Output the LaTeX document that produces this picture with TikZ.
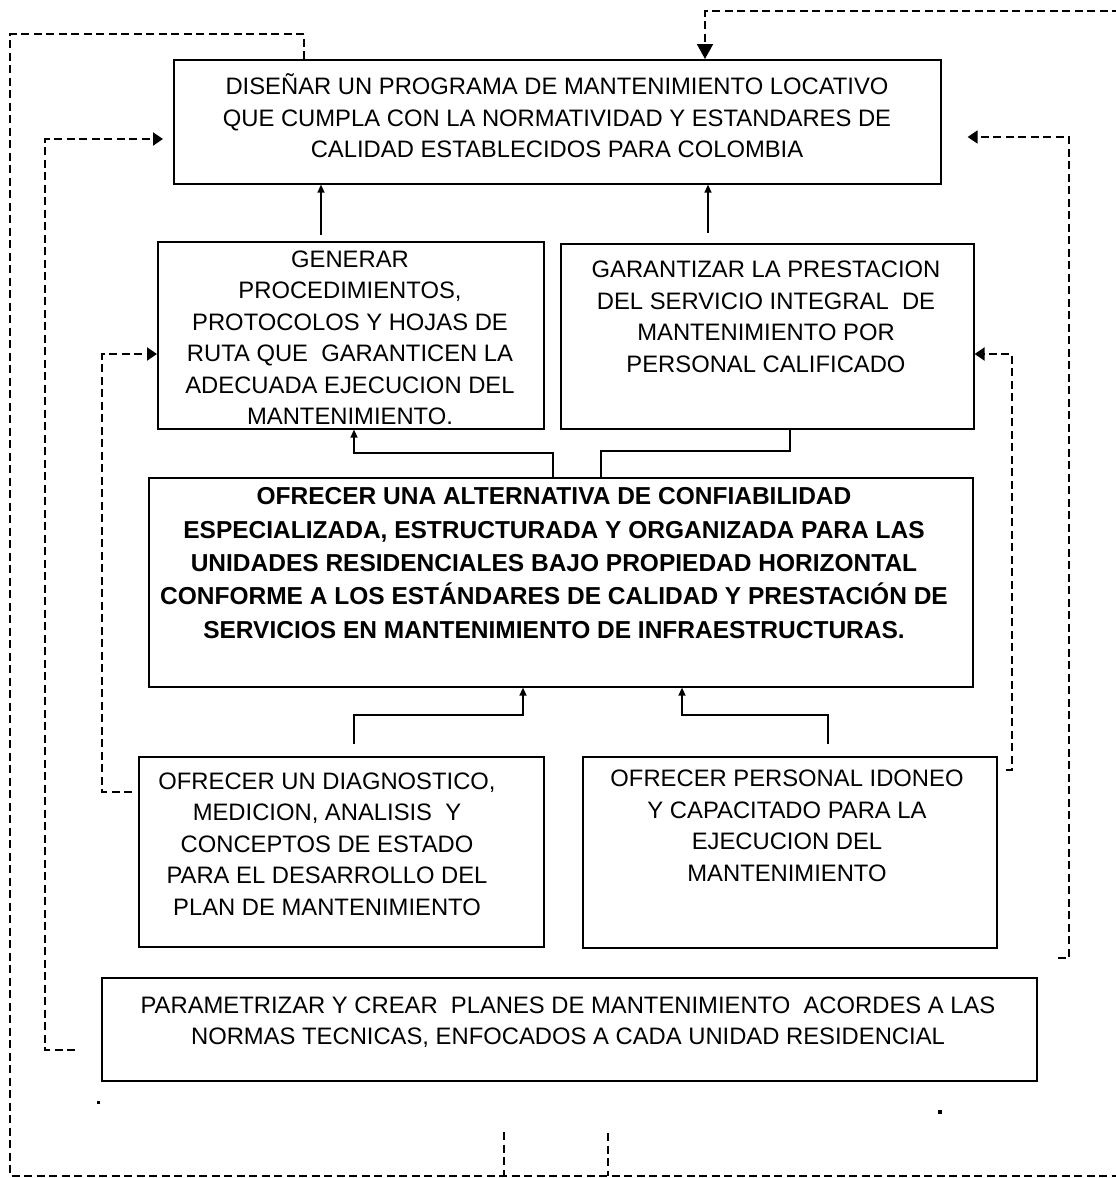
\documentclass[tikz,border=0pt]{standalone}
\usepackage{fontspec}
\setmainfont{Liberation Sans}
\usetikzlibrary{arrows.meta}
\begin{document}
\begin{tikzpicture}[x=1pt,y=-1pt,
  box/.style={draw, line width=1.6pt, inner sep=0pt, anchor=north west},
  txt/.style={align=center, inner sep=0pt, font=\fontsize{23.8}{31.5}\selectfont},
  btxt/.style={align=center, inner sep=0pt, font=\fontsize{24.5}{33.3}\selectfont\bfseries},
  sol/.style={line width=1.4pt},
  arr/.style={-{Triangle[length=8pt,width=7pt]}},
  dsh/.style={line width=2pt, dash pattern=on 8pt off 4.5pt},
  thindsh/.style={line width=1.6pt, dash pattern=on 8pt off 4.5pt},
  darr/.style={-{Triangle[length=10pt,width=13pt]}},
  bigarr/.style={-{Triangle[length=15pt,width=16pt]}},
]
\useasboundingbox (0,0) rectangle (1116,1178);
\clip (0,0) rectangle (1116,1178);

% boxes
\node[box, minimum width=767pt, minimum height=124pt] (T) at (173,59) {};
\node[box, minimum width=386pt, minimum height=187pt] (G) at (157,241) {};
\node[box, minimum width=413pt, minimum height=185pt] (GA) at (560,243) {};
\node[box, minimum width=824pt, minimum height=209pt] (M) at (148,477) {};
\node[box, minimum width=405pt, minimum height=190pt] (D) at (138,756) {};
\node[box, minimum width=414pt, minimum height=191pt] (P) at (582,756) {};
\node[box, minimum width=935pt, minimum height=103pt] (PAR) at (101,977) {};

% texts
\node[txt] (Tt) at (557,116) {DISEÑAR UN PROGRAMA DE MANTENIMIENTO LOCATIVO\\QUE CUMPLA CON LA NORMATIVIDAD Y ESTANDARES DE\\CALIDAD ESTABLECIDOS PARA COLOMBIA};
\node[txt] (Gt) at (350,338) {GENERAR\\PROCEDIMIENTOS,\\PROTOCOLOS Y HOJAS DE\\RUTA QUE~~GARANTICEN LA\\ADECUADA EJECUCION DEL\\MANTENIMIENTO.};
\node[txt] (GAt) at (766,317) {GARANTIZAR LA PRESTACION\\DEL SERVICIO INTEGRAL~~DE\\MANTENIMIENTO POR\\PERSONAL CALIFICADO};
\node[btxt] (Mt) at (554,563) {OFRECER UNA ALTERNATIVA DE CONFIABILIDAD\\ESPECIALIZADA, ESTRUCTURADA Y ORGANIZADA PARA LAS\\UNIDADES RESIDENCIALES BAJO PROPIEDAD HORIZONTAL\\CONFORME A LOS ESTÁNDARES DE CALIDAD Y PRESTACIÓN DE\\SERVICIOS EN MANTENIMIENTO DE INFRAESTRUCTURAS.};
\node[txt] (Dt) at (327,844) {OFRECER UN DIAGNOSTICO,\\MEDICION, ANALISIS~~Y\\CONCEPTOS DE ESTADO\\PARA EL DESARROLLO DEL\\PLAN DE MANTENIMIENTO};
\node[txt] (Pt) at (787,826) {OFRECER PERSONAL IDONEO\\Y CAPACITADO PARA LA\\EJECUCION DEL\\MANTENIMIENTO};
\node[txt] (PARt) at (568,1022) {PARAMETRIZAR Y CREAR~~PLANES DE MANTENIMIENTO~~ACORDES A LAS\\NORMAS TECNICAS, ENFOCADOS A CADA UNIDAD RESIDENCIAL};

% solid connectors
\coordinate (s1) at (321,0);
\draw[sol,arr,shorten <=6pt] (G.north -| s1) -- (T.south -| s1);
\coordinate (s2) at (708,0);
\draw[sol,arr,shorten <=10pt] (GA.north -| s2) -- (T.south -| s2);
\coordinate (m1) at (553,453); \coordinate (m2) at (354,453);
\draw[sol,arr] (M.north -| m1) -- (m1) -| (G.south -| m2);
\coordinate (m3) at (601,451); \coordinate (m4) at (790,451);
\draw[sol] (M.north -| m3) -- (m3) -| (GA.south -| m4);
\coordinate (d1) at (354,715); \coordinate (d2) at (523,715);
\draw[sol,arr,shorten <=12pt] (D.north -| d1) -- (d1) -| (M.south -| d2);
\coordinate (p1) at (828,715); \coordinate (p2) at (682,715);
\draw[sol,arr,shorten <=12pt] (P.north -| p1) -- (p1) -| (M.south -| p2);

% dashed feedback lines
\coordinate (fa) at (304,34); \coordinate (fb) at (10,1176); \coordinate (fc) at (1120,1176);
\draw[dsh] (T.north -| fa) -- (fa) -| (fb) -- (fc);
\coordinate (ta) at (1120,11); \coordinate (tb) at (705,11);
\draw[dsh,bigarr] (ta) -- (tb) -- (T.north -| tb);
\coordinate (la) at (75,1050); \coordinate (lb) at (45,139);
\draw[dsh,darr,shorten <=26pt,shorten >=10pt] (PAR.west |- la) -| (lb) -- (T.west |- lb);
\coordinate (ga) at (132,792); \coordinate (gb) at (102,354);
\draw[dsh,darr,shorten <=6pt] (D.west |- ga) -| (gb) -- (G.west |- gb);
\coordinate (ra) at (1004,770); \coordinate (rb) at (1012,354);
\draw[dsh,darr,shorten <=8pt] (P.east |- ra) -| (rb) -- (GA.east |- rb);
\coordinate (qa) at (1058,958); \coordinate (qb) at (1069,137);
\draw[thindsh,darr,shorten >=26pt] (qa) -| (qb) -- (T.east |- qb);
\coordinate (b1) at (504,1132); \coordinate (b2) at (608,1133);
\draw[dsh] (b1) -- (b1 |- fb);
\draw[thindsh] (b2) -- (b2 |- fb);

% stray marks
\fill (96.5,1100.5) rectangle ++(3.5,3.5);
\fill (938,1110) rectangle ++(4,4);
\end{tikzpicture}
\end{document}
